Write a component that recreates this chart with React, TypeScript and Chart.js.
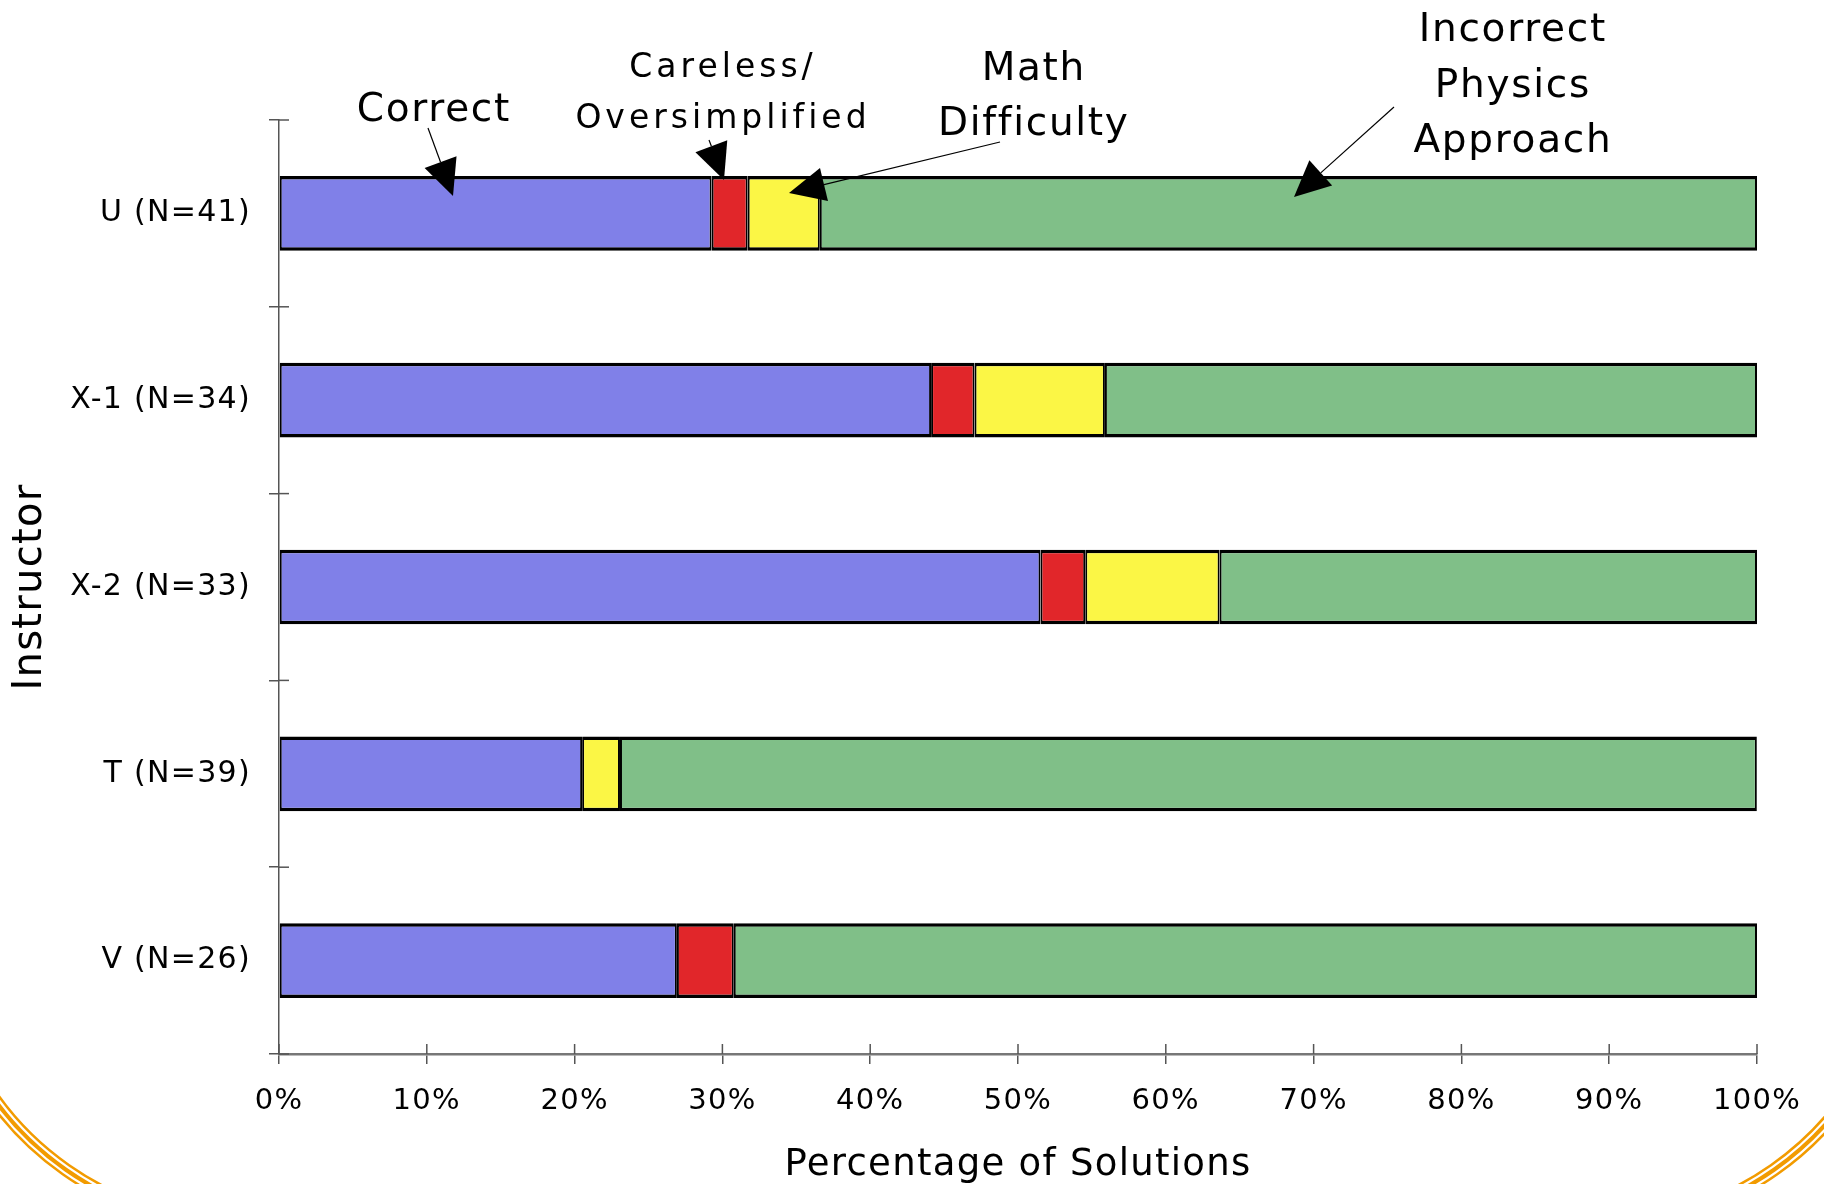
import React, { useEffect, useRef } from 'react';
import { Chart, registerables } from 'chart.js';

Chart.register(...registerables);

const instructors = ['U (N=41)', 'X-1 (N=34)', 'X-2 (N=33)', 'T (N=39)', 'V (N=26)'];
const correct = [29.27, 44.12, 51.52, 20.51, 26.92];
const careless = [2.44, 2.94, 3.03, 0, 3.85];
const mathDifficulty = [4.88, 8.82, 9.09, 2.56, 0];
const incorrectPhysics = [63.41, 44.12, 36.36, 76.92, 69.23];
const seriesNames = ['Correct', 'Careless/Oversimplified', 'Math Difficulty', 'Incorrect Physics Approach'];
const xTickValues = [0, 10, 20, 30, 40, 50, 60, 70, 80, 90, 100];

const FONT = "'DejaVu Sans', Verdana, sans-serif";

type Note = { lines: string[]; x: number; baselines: number[]; size: number; spacing: number; from: [number, number]; tip: [number, number] };

const notes: Note[] = [
  { lines: ['Correct'], x: 433, baselines: [121], size: 39, spacing: 1.7, from: [428, 128], tip: [453, 196] },
  { lines: ['Careless/', 'Oversimplified'], x: 721, baselines: [77, 128], size: 33, spacing: 4, from: [709, 140], tip: [724, 180] },
  { lines: ['Math', 'Difficulty'], x: 1033, baselines: [80, 135], size: 39, spacing: 1.7, from: [1000, 142], tip: [789, 193] },
  { lines: ['Incorrect', 'Physics', 'Approach'], x: 1512, baselines: [41, 97, 152], size: 39, spacing: 1.7, from: [1394, 107], tip: [1294, 197] },
];

function drawArrow(ctx: CanvasRenderingContext2D, from: [number, number], tip: [number, number]) {
  const dx = tip[0] - from[0];
  const dy = tip[1] - from[1];
  const len = Math.hypot(dx, dy);
  const ux = dx / len;
  const uy = dy / len;
  const L = 36;
  const hw = 17;
  const bx = tip[0] - ux * L;
  const by = tip[1] - uy * L;
  ctx.save();
  ctx.strokeStyle = '#000';
  ctx.lineWidth = 1.2;
  ctx.beginPath();
  ctx.moveTo(from[0], from[1]);
  ctx.lineTo(bx, by);
  ctx.stroke();
  ctx.fillStyle = '#000';
  ctx.beginPath();
  ctx.moveTo(tip[0], tip[1]);
  ctx.lineTo(bx - uy * hw, by + ux * hw);
  ctx.lineTo(bx + uy * hw, by - ux * hw);
  ctx.closePath();
  ctx.fill();
  ctx.restore();
}

const decorPlugin = {
  id: 'decor',
  beforeDraw(chart: any) {
    const ctx: CanvasRenderingContext2D = chart.ctx;
    ctx.save();
    ctx.strokeStyle = '#F29B00';
    const rings: [number, number][] = [[-5.5, 2.5], [0, 4], [5.5, 2.5]];
    const deg = Math.PI / 180;
    for (const [dr, w] of rings) {
      ctx.lineWidth = w;
      ctx.beginPath();
      ctx.arc(238, 924, 300 + dr, 95 * deg, 155 * deg);
      ctx.stroke();
      ctx.beginPath();
      ctx.arc(1602, 924, 300 + dr, 25 * deg, 85 * deg);
      ctx.stroke();
    }
    ctx.restore();
    // wider tracking for the axis texts, as in the original slide
    (ctx as any).letterSpacing = '1.3px';
  },
  afterDraw(chart: any) {
    const ctx: CanvasRenderingContext2D = chart.ctx;
    (ctx as any).letterSpacing = '0px';
    const xs = chart.scales.x;
    const ys = chart.scales.y;
    const area = chart.chartArea;
    ctx.save();
    ctx.strokeStyle = '#555';
    ctx.lineWidth = 1.5;
    for (const v of xTickValues) {
      const px = xs.getPixelForValue(v);
      ctx.beginPath();
      ctx.moveTo(px, area.bottom);
      ctx.lineTo(px, area.bottom - 10);
      ctx.stroke();
    }
    for (let i = 0; i <= instructors.length; i++) {
      const py = ys.getPixelForValue(i - 0.5);
      ctx.beginPath();
      ctx.moveTo(area.left, py);
      ctx.lineTo(area.left + 10, py);
      ctx.stroke();
    }
    ctx.fillStyle = '#000';
    ctx.textAlign = 'center';
    ctx.textBaseline = 'alphabetic';
    for (const n of notes) {
      ctx.font = `${n.size}px ${FONT}`;
      (ctx as any).letterSpacing = `${n.spacing}px`;
      n.lines.forEach((t, i) => ctx.fillText(t, n.x + n.spacing / 2, n.baselines[i]));
      (ctx as any).letterSpacing = '0px';
      drawArrow(ctx, n.from, n.tip);
    }
    ctx.restore();
  },
};

export default function App() {
  const ref = useRef<HTMLCanvasElement>(null);

  useEffect(() => {
    document.body.style.margin = '0';
    const canvas = ref.current;
    if (!canvas) return;
    const border = { top: 3.5, bottom: 3.5, left: 2, right: 2 };
    const chart = new Chart(canvas, {
      type: 'bar',
      data: {
        labels: instructors,
        datasets: [
          { label: seriesNames[0], data: correct, backgroundColor: '#8080E8' },
          { label: seriesNames[1], data: careless, backgroundColor: '#E1262A' },
          { label: seriesNames[2], data: mathDifficulty, backgroundColor: '#FBF645' },
          { label: seriesNames[3], data: incorrectPhysics, backgroundColor: '#80BF88' },
        ].map((d) => ({ ...d, borderColor: '#000', borderWidth: border, borderSkipped: false, inflateAmount: 0, categoryPercentage: 1, barPercentage: 0.4 })),
      },
      options: {
        indexAxis: 'y',
        responsive: false,
        animation: false,
        events: [],
        layout: { padding: { top: 120, right: 67, bottom: 0, left: 0 } },
        plugins: { legend: { display: false }, tooltip: { enabled: false } },
        scales: {
          x: {
            stacked: true,
            min: 0,
            max: 100,
            afterFit: (s: any) => { s.height = 130; },
            afterBuildTicks: (s: any) => { s.ticks = xTickValues.map((v) => ({ value: v })); },
            ticks: {
              autoSkip: false,
              maxRotation: 0,
              padding: 20,
              color: '#000',
              font: { family: FONT, size: 29 },
              callback: (v: any) => `${v}%`,
            },
            grid: { drawOnChartArea: false, drawTicks: true, tickLength: 10, color: '#555', lineWidth: 1.5 },
            border: { display: true, color: '#777', width: 2.5 },
            title: {
              display: true,
              text: 'Percentage of Solutions',
              color: '#000',
              font: { family: FONT, size: 37, lineHeight: 1 },
              padding: { top: 0, bottom: 0 },
            },
          },
          y: {
            stacked: true,
            afterFit: (s: any) => { s.width = 279; },
            ticks: {
              padding: 18,
              color: '#000',
              font: { family: FONT, size: 30 },
            },
            grid: { drawOnChartArea: false, drawTicks: true, tickLength: 10, color: '#555', lineWidth: 1.5, offset: true },
            border: { display: true, color: '#555', width: 1.5 },
            title: {
              display: true,
              text: 'Instructor',
              color: '#000',
              font: { family: FONT, size: 40, lineHeight: 1.2 },
              padding: { top: 7, bottom: 0 },
            },
          },
        },
      },
      plugins: [decorPlugin],
    } as any);
    return () => chart.destroy();
  }, []);

  return (
    <div style={{ position: 'absolute', left: 0, top: 0, width: 1824, height: 1184, background: '#fff' }}>
      <canvas ref={ref} width={1824} height={1184} style={{ display: 'block' }} />
    </div>
  );
}
